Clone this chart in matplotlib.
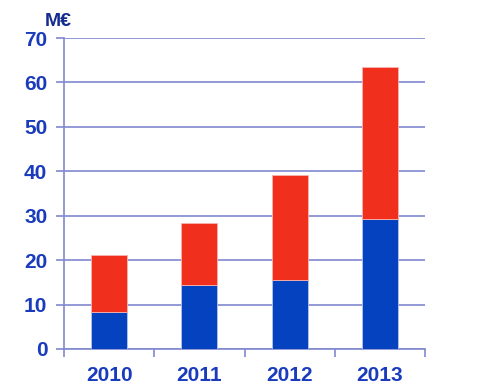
import matplotlib.pyplot as plt

years = ['2010', '2011', '2012', '2013']
blue_vals = [8.4, 14.4, 15.6, 29.3]
totals = [21.2, 28.3, 39.2, 63.5]
red_vals = [t - b for t, b in zip(totals, blue_vals)]

grid_col = '#8088d0'
lab_col = '#1a3cbc'

fig = plt.figure(figsize=(4.79, 3.91), dpi=100)
ax = fig.add_axes([64/479, 1 - 349/391, (425-64)/479, (349-38)/391])

x = range(len(years))
ax.bar(x, blue_vals, width=0.4, color='#0442c0', edgecolor='#b8c4ec', linewidth=0.6, zorder=3)
ax.bar(x, red_vals, bottom=blue_vals, width=0.4, color='#f0301c', edgecolor='#f8b4b0', linewidth=0.6, zorder=3)

ax.set_xlim(-0.5, 3.5)
ax.set_ylim(0, 70)
ax.set_yticks(range(0, 71, 10))
ax.set_xticks([i - 0.5 for i in range(5)], minor=False)
ax.set_xticklabels([])
ax.set_xticks(list(x), minor=True)
ax.set_xticklabels(years, minor=True)
ax.tick_params(axis='x', which='minor', length=0, pad=12, labelsize=15, labelcolor=lab_col)
ax.tick_params(axis='x', which='major', length=6, color=grid_col, width=1.2)
ax.tick_params(axis='y', length=6, color=grid_col, width=1.2, pad=6, labelsize=15, labelcolor=lab_col)
for lab in ax.get_xticklabels(minor=True) + ax.get_yticklabels():
    lab.set_fontweight('bold')
    lab.set_fontfamily('Liberation Sans')

ax.yaxis.grid(True, color=grid_col, linewidth=1.2, zorder=0)
for s in ['top', 'right']:
    ax.spines[s].set_visible(False)
for s in ['left', 'bottom']:
    ax.spines[s].set_color(grid_col)
    ax.spines[s].set_linewidth(1.2)

fig.text(45/479, 1 - 26/391, 'M€', color='#142c90', fontsize=14, fontweight='bold', family='Liberation Sans')

fig.savefig('out.png', dpi=100)
